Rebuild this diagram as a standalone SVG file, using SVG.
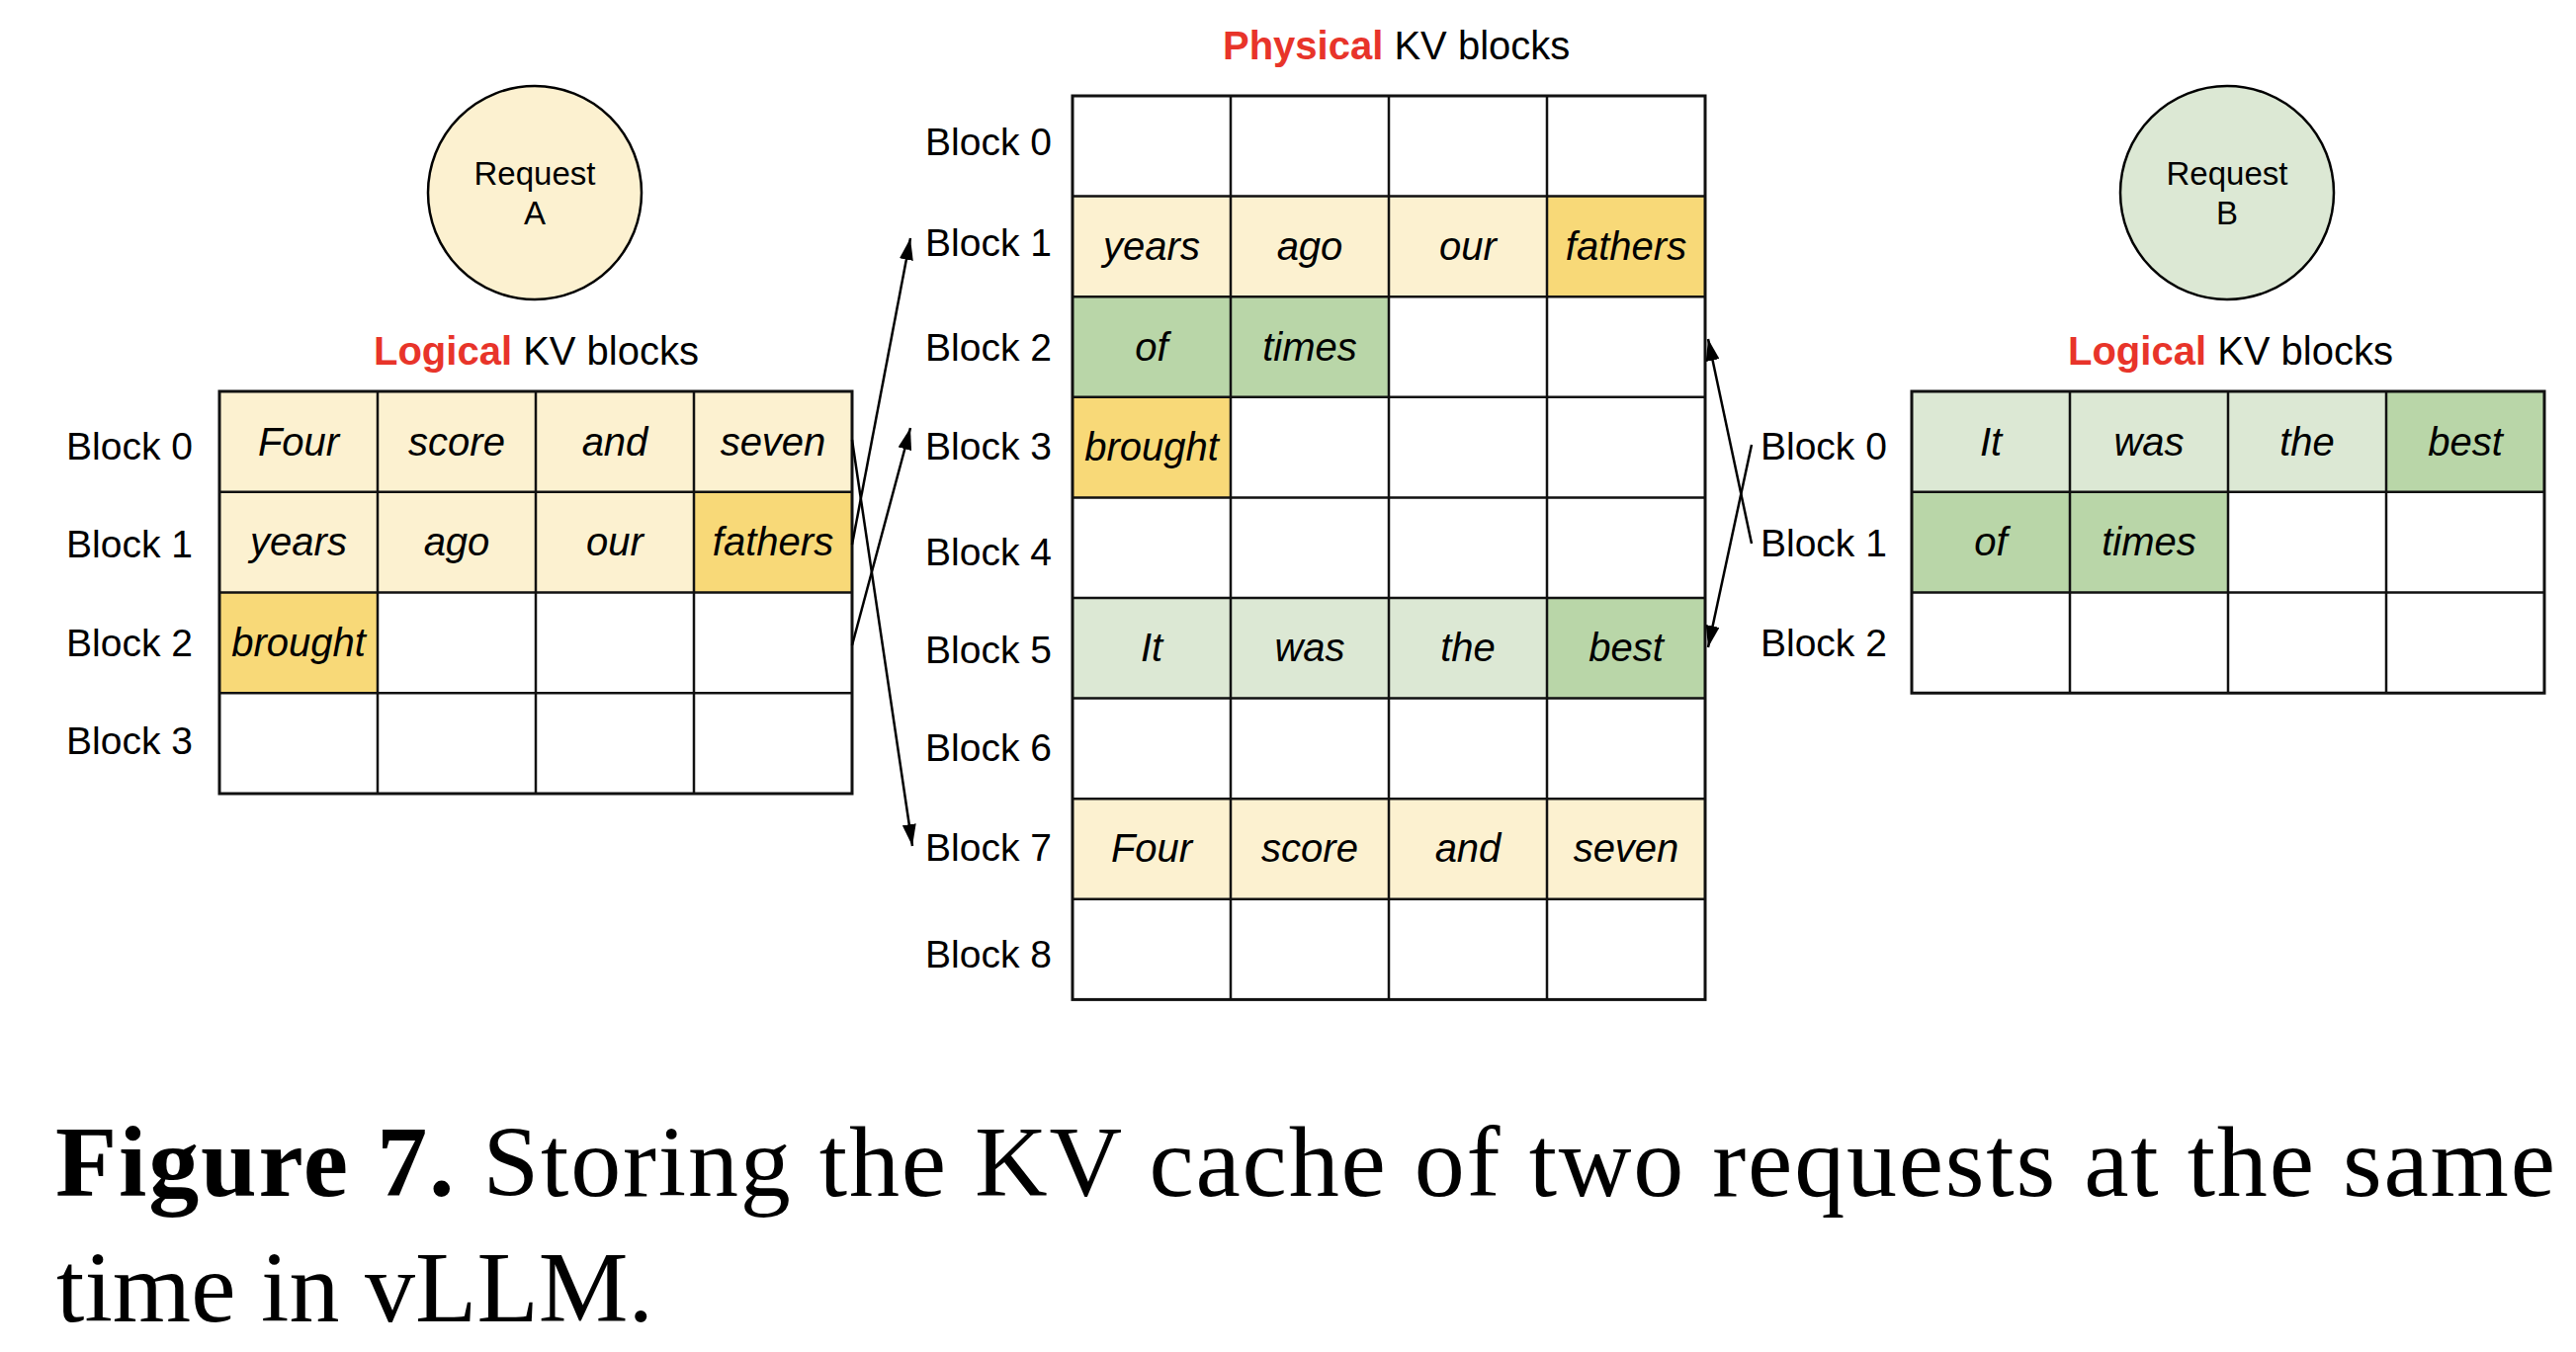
<svg xmlns="http://www.w3.org/2000/svg" width="2606" height="1368" viewBox="0 0 2606 1368">
<style>
.lbl{font-family:"Liberation Sans",Arial,sans-serif;font-size:39px;fill:#000}
.cell{font-family:"Liberation Sans",Arial,sans-serif;font-size:40px;font-style:italic;fill:#000;text-anchor:middle}
.title{font-family:"Liberation Sans",Arial,sans-serif;font-size:40px;fill:#000}
.red{fill:#E8342A;font-weight:bold}
.req{font-family:"Liberation Sans",Arial,sans-serif;font-size:33px;fill:#000;text-anchor:middle}
.grid{fill:none;stroke:#111;stroke-width:2.5}
.outer{fill:none;stroke:#111;stroke-width:3}
.ly{fill:#FCF1D0}
.dy{fill:#F8D978}
.lg{fill:#DCE8D4}
.dg{fill:#B9D6A8}
.conn{stroke:#000;stroke-width:2.5;fill:none;marker-end:url(#ah)}
.cap{font-family:"Liberation Serif","Times New Roman",serif;font-size:102px;fill:#000}
</style>
<defs>
<marker id="ah" markerUnits="userSpaceOnUse" markerWidth="24" markerHeight="14" refX="22" refY="7" orient="auto">
<path d="M0,0 L22,7 L0,14 z" fill="#000"/>
</marker>
</defs>
<rect width="2606" height="1368" fill="#fff"/>

<g id="requestA">
<circle cx="541" cy="195" r="108" fill="#FCF1D0" stroke="#000" stroke-width="2.5"/>
<text class="req" x="541" y="187">Request</text>
<text class="req" x="541" y="227">A</text>
</g>

<g id="requestB">
<circle cx="2253" cy="195" r="108" fill="#DCE8D4" stroke="#000" stroke-width="2.5"/>
<text class="req" x="2253" y="187">Request</text>
<text class="req" x="2253" y="227">B</text>
</g>

<g id="titleLogicalA"><text class="title" x="378" y="369"><tspan class="red">Logical</tspan> KV blocks</text></g>
<g id="titlePhysical"><text class="title" x="1237" y="60"><tspan class="red">Physical</tspan> KV blocks</text></g>
<g id="titleLogicalB"><text class="title" x="2092" y="369"><tspan class="red">Logical</tspan> KV blocks</text></g>

<g id="logicalA">
<rect class="ly" x="222" y="396" width="640" height="101.75"/>
<rect class="ly" x="222" y="497.75" width="480" height="101.75"/>
<rect class="dy" x="702" y="497.75" width="160" height="101.75"/>
<rect class="dy" x="222" y="599.5" width="160" height="101.75"/>
<path class="grid" d="M382,396V803M542,396V803M702,396V803M222,497.75H862M222,599.5H862M222,701.25H862"/>
<rect class="outer" x="222" y="396" width="640" height="407"/>
<g text-anchor="end">
<text class="lbl" x="195" y="465">Block 0</text>
<text class="lbl" x="195" y="564">Block 1</text>
<text class="lbl" x="195" y="664">Block 2</text>
<text class="lbl" x="195" y="763">Block 3</text>
</g>
<text class="cell" x="302" y="461">Four</text>
<text class="cell" x="462" y="461">score</text>
<text class="cell" x="622" y="461">and</text>
<text class="cell" x="782" y="461">seven</text>
<text class="cell" x="302" y="562">years</text>
<text class="cell" x="462" y="562">ago</text>
<text class="cell" x="622" y="562">our</text>
<text class="cell" x="782" y="562">fathers</text>
<text class="cell" x="302" y="664">brought</text>
</g>

<g id="physical">
<rect class="ly" x="1085" y="198.6" width="480" height="101.6"/>
<rect class="dy" x="1565" y="198.6" width="160" height="101.6"/>
<rect class="dg" x="1085" y="300.2" width="320" height="101.6"/>
<rect class="dy" x="1085" y="401.8" width="160" height="101.6"/>
<rect class="lg" x="1085" y="605" width="480" height="101.6"/>
<rect class="dg" x="1565" y="605" width="160" height="101.6"/>
<rect class="ly" x="1085" y="808.2" width="640" height="101.6"/>
<path class="grid" d="M1245,97V1011.4M1405,97V1011.4M1565,97V1011.4M1085,198.6H1725M1085,300.2H1725M1085,401.8H1725M1085,503.4H1725M1085,605H1725M1085,706.6H1725M1085,808.2H1725M1085,909.8H1725"/>
<rect class="outer" x="1085" y="97" width="640" height="914.4"/>
<g text-anchor="end">
<text class="lbl" x="1064" y="157">Block 0</text>
<text class="lbl" x="1064" y="259">Block 1</text>
<text class="lbl" x="1064" y="365">Block 2</text>
<text class="lbl" x="1064" y="465">Block 3</text>
<text class="lbl" x="1064" y="572">Block 4</text>
<text class="lbl" x="1064" y="671">Block 5</text>
<text class="lbl" x="1064" y="770">Block 6</text>
<text class="lbl" x="1064" y="871">Block 7</text>
<text class="lbl" x="1064" y="979">Block 8</text>
</g>
<text class="cell" x="1165" y="263">years</text>
<text class="cell" x="1325" y="263">ago</text>
<text class="cell" x="1485" y="263">our</text>
<text class="cell" x="1645" y="263">fathers</text>
<text class="cell" x="1165" y="365">of</text>
<text class="cell" x="1325" y="365">times</text>
<text class="cell" x="1165" y="466">brought</text>
<text class="cell" x="1165" y="669">It</text>
<text class="cell" x="1325" y="669">was</text>
<text class="cell" x="1485" y="669">the</text>
<text class="cell" x="1645" y="669">best</text>
<text class="cell" x="1165" y="872">Four</text>
<text class="cell" x="1325" y="872">score</text>
<text class="cell" x="1485" y="872">and</text>
<text class="cell" x="1645" y="872">seven</text>
</g>

<g id="logicalB">
<rect class="lg" x="1934" y="396" width="480" height="101.75"/>
<rect class="dg" x="2414" y="396" width="160" height="101.75"/>
<rect class="dg" x="1934" y="497.75" width="320" height="101.75"/>
<path class="grid" d="M2094,396V701.25M2254,396V701.25M2414,396V701.25M1934,497.75H2574M1934,599.5H2574"/>
<rect class="outer" x="1934" y="396" width="640" height="305.25"/>
<text class="lbl" x="1781" y="465">Block 0</text>
<text class="lbl" x="1781" y="563">Block 1</text>
<text class="lbl" x="1781" y="664">Block 2</text>
<text class="cell" x="2014" y="461">It</text>
<text class="cell" x="2174" y="461">was</text>
<text class="cell" x="2334" y="461">the</text>
<text class="cell" x="2494" y="461">best</text>
<text class="cell" x="2014" y="562">of</text>
<text class="cell" x="2174" y="562">times</text>
</g>

<g id="connectors">
<line class="conn" x1="862" y1="445" x2="923" y2="856"/>
<line class="conn" x1="862" y1="551" x2="921" y2="241"/>
<line class="conn" x1="862" y1="653" x2="921" y2="433"/>
<line class="conn" x1="1772" y1="450" x2="1728" y2="655"/>
<line class="conn" x1="1772" y1="550" x2="1728" y2="343"/>
</g>

<g id="caption">
<text class="cap" x="56" y="1210" textLength="2529" lengthAdjust="spacing"><tspan font-weight="bold">Figure 7.</tspan> Storing the KV cache of two requests at the same</text>
<text class="cap" x="57" y="1337" textLength="604" lengthAdjust="spacing">time in vLLM.</text>
</g>
</svg>
